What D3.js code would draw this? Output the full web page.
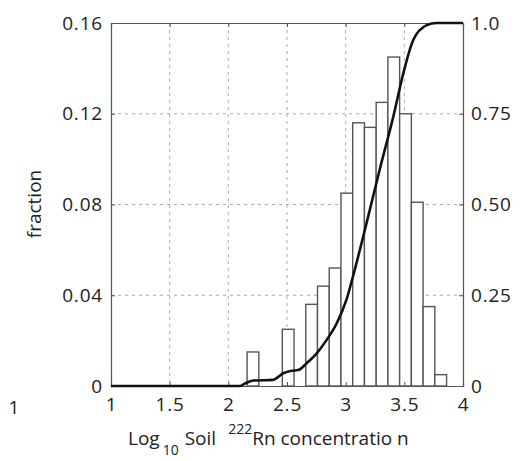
<!DOCTYPE html>
<html>
<head>
<meta charset="utf-8">
<script src="https://cdn.jsdelivr.net/npm/d3@7"></script>
<style>
  body { margin: 0; background: #fff; }
  svg text { font-family: "Open Sans", sans-serif; fill: #222; }
</style>
</head>
<body>
<svg id="chart" width="531" height="461"></svg>
<script>
// histogram bins (log10 soil Rn), bin width 0.1
var binCenters = [2.21, 2.51, 2.71, 2.81, 2.91, 3.01, 3.11, 3.21, 3.31, 3.41, 3.51, 3.61, 3.71, 3.81]
var fractions = [0.015, 0.025, 0.036, 0.044, 0.052, 0.085, 0.116, 0.114, 0.125, 0.145, 0.120, 0.081, 0.035, 0.005]
var binWidth = 0.1

// cumulative curve
var cdfX = [1, 2.10, 2.142, 2.213, 2.383, 2.468, 2.54, 2.596, 2.668, 2.753, 2.838, 2.924, 3.009, 3.065, 3.179, 3.293, 3.406, 3.491, 3.576, 3.691, 3.776, 4]
var cdfY = [0, 0, 0.007, 0.015, 0.017, 0.035, 0.042, 0.044, 0.063, 0.090, 0.127, 0.173, 0.24, 0.305, 0.45, 0.60, 0.742, 0.861, 0.953, 0.994, 1.0, 1.0]

var xTicks = [1, 1.5, 2, 2.5, 3, 3.5, 4]
var leftTicks = [0, 0.04, 0.08, 0.12, 0.16]
var rightTicks = [0, 0.25, 0.5, 0.75, 1.0]
var rightLabels = ['0', '0.25', '0.50', '0.75', '1.0']

var box = { left: 111, right: 463, top: 23, bottom: 386 }

var svg = d3.select('#chart')

var x = d3.scaleLinear().domain([1, 4]).range([box.left, box.right])
var yL = d3.scaleLinear().domain([0, 0.16]).range([box.bottom, box.top])
var yR = d3.scaleLinear().domain([0, 1]).range([box.bottom, box.top])

// grid
var grid = svg.append('g').attr('stroke', '#aaa').attr('stroke-width', 1).attr('stroke-dasharray', '3,4')
grid.selectAll('.vg').data(xTicks.slice(1, -1)).enter().append('line')
	.attr('x1', d => x(d)).attr('x2', d => x(d))
	.attr('y1', box.top).attr('y2', box.bottom)
grid.selectAll('.hg').data(leftTicks.slice(1, -1)).enter().append('line')
	.attr('x1', box.left).attr('x2', box.right)
	.attr('y1', d => yL(d)).attr('y2', d => yL(d))

// bars
svg.append('g').selectAll('rect').data(binCenters).enter().append('rect')
	.attr('x', d => x(d - binWidth / 2))
	.attr('width', d => x(d + binWidth / 2) - x(d - binWidth / 2))
	.attr('y', (d, i) => yL(fractions[i]))
	.attr('height', (d, i) => yL(0) - yL(fractions[i]))
	.attr('fill', '#fff')
	.attr('stroke', '#555')
	.attr('stroke-width', 1.4)

// axes (ticks point inward, like matlab)
var tickLen = 4
var fmt = d => String(d)

var gx = svg.append('g').attr('transform', `translate(0,${box.bottom})`)
	.call(d3.axisBottom(x).tickValues(xTicks).tickSize(-tickLen).tickPadding(12).tickFormat(fmt))
var gxt = svg.append('g').attr('transform', `translate(0,${box.top})`)
	.call(d3.axisTop(x).tickValues(xTicks).tickSize(-tickLen).tickFormat(''))
var gl = svg.append('g').attr('transform', `translate(${box.left},0)`)
	.call(d3.axisLeft(yL).tickValues(leftTicks).tickSize(-tickLen).tickPadding(8).tickFormat(fmt))
var gr = svg.append('g').attr('transform', `translate(${box.right},0)`)
	.call(d3.axisRight(yR).tickValues(rightTicks).tickSize(-tickLen).tickPadding(8).tickFormat((d, i) => rightLabels[i]))

;[gx, gxt, gl, gr].forEach(g => {
	g.select('.domain').attr('stroke', '#555').attr('stroke-width', 1.2)
	g.selectAll('.tick line').attr('stroke', '#555')
	g.selectAll('.tick text').attr('font-size', 19).attr('fill', '#222')
		.style('font-family', '"Open Sans", sans-serif').style('letter-spacing', '0.8px')
})

// cumulative line
var line = d3.line()
	.x((d, i) => x(cdfX[i]))
	.y((d, i) => yR(cdfY[i]))
	.curve(d3.curveMonotoneX)

svg.append('path')
	.datum(cdfX)
	.attr('d', line)
	.attr('fill', 'none')
	.attr('stroke', '#111')
	.attr('stroke-width', 2.6)
	.attr('stroke-linejoin', 'round')

// labels
svg.append('text')
	.attr('transform', 'translate(41,204) rotate(-90)')
	.attr('text-anchor', 'middle')
	.attr('font-size', 19)
	.text('fraction')

var xl = svg.append('text')
	.attr('x', 128).attr('y', 445)
	.attr('font-size', 19)
xl.append('tspan').text('Log')
xl.append('tspan').attr('font-size', 14).attr('dy', 10).attr('dx', 3).text('10')
xl.append('tspan').attr('dy', -10).attr('dx', 6).text('Soil')
xl.append('tspan').attr('font-size', 14).attr('dy', -11).attr('dx', 12).text('222')
xl.append('tspan').attr('dy', 11).text('Rn concentratio n')

// stray label at far left
svg.append('text')
	.attr('x', 14).attr('y', 414)
	.attr('text-anchor', 'middle')
	.attr('font-size', 19)
	.text('1')
</script>
</body>
</html>
